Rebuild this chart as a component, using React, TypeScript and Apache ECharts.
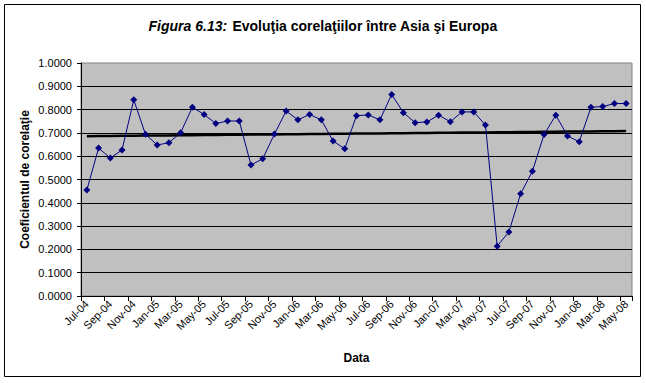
import React, { useEffect, useRef } from "react";
import * as echarts from "echarts";

const categories = [
  "Jul-04", "Aug-04", "Sep-04", "Oct-04", "Nov-04", "Dec-04",
  "Jan-05", "Feb-05", "Mar-05", "Apr-05", "May-05", "Jun-05",
  "Jul-05", "Aug-05", "Sep-05", "Oct-05", "Nov-05", "Dec-05",
  "Jan-06", "Feb-06", "Mar-06", "Apr-06", "May-06", "Jun-06",
  "Jul-06", "Aug-06", "Sep-06", "Oct-06", "Nov-06", "Dec-06",
  "Jan-07", "Feb-07", "Mar-07", "Apr-07", "May-07", "Jun-07",
  "Jul-07", "Aug-07", "Sep-07", "Oct-07", "Nov-07", "Dec-07",
  "Jan-08", "Feb-08", "Mar-08", "Apr-08", "May-08",
];

const correlation = [
  0.455, 0.635, 0.592, 0.627, 0.842, 0.694,
  0.648, 0.658, 0.701, 0.810, 0.779, 0.740,
  0.751, 0.751, 0.562, 0.589, 0.695, 0.794,
  0.756, 0.779, 0.756, 0.665, 0.632, 0.774,
  0.777, 0.756, 0.865, 0.787, 0.744, 0.747,
  0.776, 0.748, 0.790, 0.790, 0.734, 0.214,
  0.275, 0.439, 0.535, 0.693, 0.776, 0.687,
  0.662, 0.810, 0.813, 0.826, 0.826,
];

const titleLead = "Figura 6.13:";
const titleMain = "Evoluţia corelaţiilor între Asia şi Europa";
const yAxisTitle = "Coeficientul de corelaţie";
const xAxisTitle = "Data";

// Linear trendline (least squares) derived from the series, as Excel does
function linearTrend(values: number[]): number[] {
  const n = values.length;
  let sx = 0, sy = 0, sxx = 0, sxy = 0;
  values.forEach((v, i) => {
    sx += i; sy += v; sxx += i * i; sxy += i * v;
  });
  const b = (n * sxy - sx * sy) / (n * sxx - sx * sx);
  const a = (sy - b * sx) / n;
  return values.map((_, i) => a + b * i);
}

const FONT = "'Liberation Sans', Arial, sans-serif";

export default function App() {
  const ref = useRef<HTMLDivElement>(null);

  useEffect(() => {
    if (!ref.current) return;
    const chart = echarts.init(ref.current, null, { renderer: "svg" });
    const trend = linearTrend(correlation);
    chart.setOption({
      animation: false,
      backgroundColor: "#ffffff",
      textStyle: { fontFamily: FONT },
      title: {
        text: `{a|${titleLead}} {b|${titleMain}}`,
        left: "center",
        top: 17,
        padding: 0,
        textStyle: {
          rich: {
            a: { fontFamily: FONT, fontSize: 14, fontWeight: "bold", fontStyle: "italic", color: "#000" },
            b: { fontFamily: FONT, fontSize: 14, fontWeight: "bold", color: "#000" },
          },
        },
      },
      graphic: [
        {
          type: "rect",
          shape: { x: 4.5, y: 4.5, width: 636, height: 372 },
          style: { fill: "none", stroke: "#000", lineWidth: 1 },
          silent: true,
        },
      ],
      grid: {
        left: 81,
        right: 14,
        top: 63,
        bottom: 87,
        show: true,
        backgroundColor: "#C0C0C0",
        borderColor: "#808080",
        borderWidth: 1,
      },
      xAxis: {
        type: "category",
        data: categories,
        boundaryGap: true,
        name: xAxisTitle,
        nameLocation: "middle",
        nameGap: 56,
        nameMoveOverlap: false,
        nameTextStyle: { fontFamily: FONT, fontSize: 12, fontWeight: "bold", color: "#000" },
        axisLine: { lineStyle: { color: "#000", width: 1 } },
        axisTick: { show: true, interval: 1, length: 5, lineStyle: { color: "#000" } },
        axisLabel: {
          interval: 1,
          rotate: 45,
          fontFamily: FONT,
          fontSize: 11,
          color: "#000",
          margin: 6,
        },
        splitLine: { show: false },
      },
      yAxis: {
        type: "value",
        min: 0,
        max: 1,
        interval: 0.1,
        name: yAxisTitle,
        nameLocation: "middle",
        nameGap: 50,
        nameMoveOverlap: false,
        nameRotate: 90,
        nameTextStyle: { fontFamily: FONT, fontSize: 12, fontWeight: "bold", color: "#000" },
        axisLine: { show: true, lineStyle: { color: "#000", width: 1 } },
        axisTick: { show: true, length: 4, lineStyle: { color: "#000" } },
        axisLabel: {
          formatter: (v: number) => v.toFixed(4),
          fontFamily: FONT,
          fontSize: 11,
          color: "#000",
          margin: 9,
        },
        splitLine: { show: true, showMaxLine: false, lineStyle: { color: "#000", width: 1 } },
      },
      series: [
        {
          name: "Trend",
          type: "line",
          data: trend,
          symbol: "none",
          lineStyle: { color: "#000", width: 2.5 },
          z: 2,
          silent: true,
        },
        {
          name: "Corelaţie",
          type: "line",
          data: correlation,
          symbol: "diamond",
          symbolSize: 7,
          itemStyle: { color: "#000080" },
          lineStyle: { color: "#000080", width: 1 },
          z: 3,
        },
      ],
    });
    return () => chart.dispose();
  }, []);

  return (
    <div
      ref={ref}
      style={{ position: "fixed", left: 0, top: 0, width: 646, height: 383 }}
    />
  );
}
